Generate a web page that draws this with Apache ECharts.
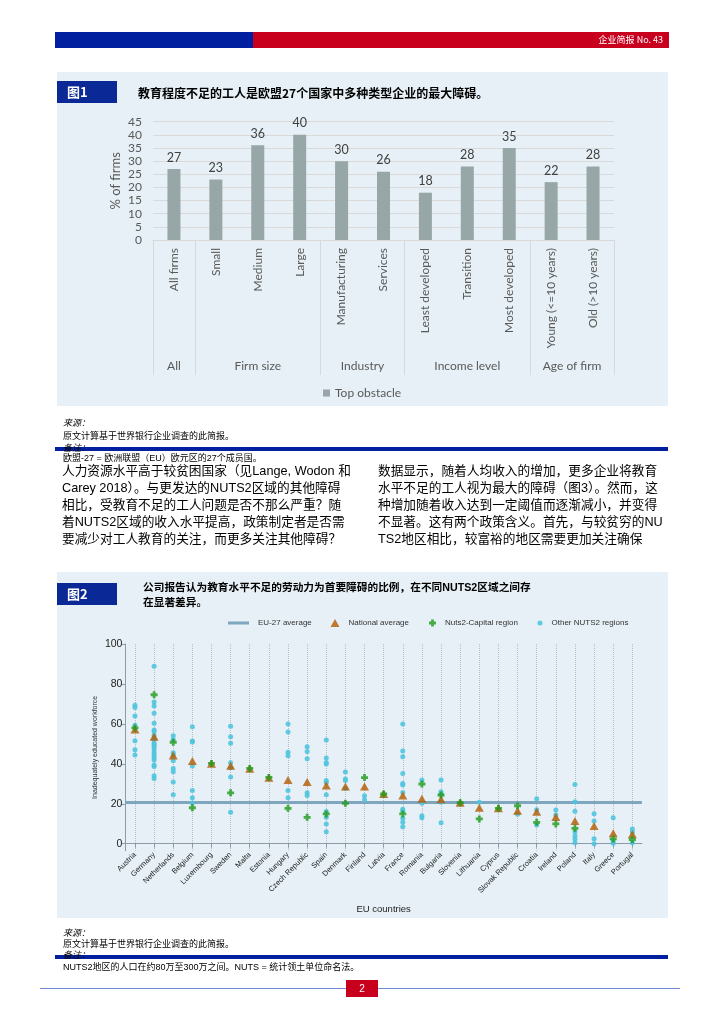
<!DOCTYPE html>
<html><head><meta charset="utf-8">
<script src="https://cdn.jsdelivr.net/npm/echarts@6/dist/echarts.min.js"></script>
<style>html,body{margin:0;padding:0;background:#fff}#c{width:724px;height:1024px}</style>
</head><body><div id="c"></div>
<script>
// ---------- Figure 1 data ----------
const fig1Categories = ['All firms','Small','Medium','Large','Manufacturing','Services','Least developed','Transition','Most developed','Young (<=10 years)','Old (>10 years)'];
const fig1Values = [27,23,36,40,30,26,18,28,35,22,28];
const fig1Groups = ['All','Firm size','Industry','Income level','Age of firm'];
const fig1GroupMembers = [[0],[1,2,3],[4,5],[6,7,8],[9,10]];
const fig1GroupStarts = [0,1,4,6,9];

// ---------- Figure 2 data ----------
const countries = ['Austria','Germany','Netherlands','Belgium','Luxembourg','Sweden','Malta','Estonia','Hungary','Czech Republic','Spain','Denmark','Finland','Latvia','France','Romania','Bulgaria','Slovenia','Lithuania','Cyprus','Slovak Republic','Croatia','Ireland','Poland','Italy','Greece','Portugal'];
const euAverage = 20.7;
const nationalAverage = [57.2,53.6,44.2,41.4,40.0,39.0,37.5,33.0,31.9,30.9,29.1,28.6,28.6,24.9,24.1,22.5,22.2,20.5,18.0,17.7,16.5,16.0,13.4,11.4,8.9,5.3,4.7];
const capitalRegion = [58.0,74.6,50.8,18.0,40.2,25.5,37.7,33.2,17.7,13.2,14.9,20.2,33.1,24.9,14.9,29.9,24.4,20.5,12.4,17.7,19.0,10.7,9.9,7.7,null,2.4,2.1];
const otherRegions = [
  [69.3,68.2,63.9,59.3,51.6,47.0,44.4],
  [88.9,71.0,69.0,65.3,60.3,57.0,56.0,54.0,52.0,50.3,49.4,48.6,47.2,45.7,44.4,43.0,41.9,39.4,38.6,34.0,32.7],
  [54.0,52.0,45.6,44.4,41.6,37.7,36.0,30.9,24.5],
  [58.6,51.4,50.9,38.9,26.7,23.0,20.4],
  [],
  [58.8,53.6,50.3,40.6,38.0,33.4,15.7],
  [],
  [],
  [59.9,55.9,45.8,44.1,26.6,23.0],
  [48.6,46.2,42.6,25.5,24.2],
  [51.9,42.9,40.7,39.9,31.6,30.6,24.5,16.1,13.2,9.9,6.0],
  [35.9,32.4,31.6,27.7],
  [24.0,22.0],
  [],
  [59.9,46.4,43.6,35.2,30.2,29.4,25.7,17.2,16.4,12.7,10.7,8.5],
  [31.9,20.2,14.0,13.0],
  [31.9,26.0,24.9,20.7,10.5],
  [],
  [20.7],
  [],
  [14.7],
  [22.5,17.0,9.4],
  [16.9,14.4],
  [29.7,21.0,16.2,6.0,4.0,2.4,0.5],
  [15.0,11.4,2.5,0.0],
  [13.0,1.4,0.2],
  [7.4,5.9,0.5]
];
const fig2YTicks = [0,20,40,60,80,100];

// ---------- build ----------
const SANS = '"Liberation Sans","Noto Sans CJK SC",sans-serif';
const CJK = '"Noto Sans CJK SC","Liberation Sans",sans-serif';
const LATO = 'Lato, "Open Sans", sans-serif';
const BLUE = '#00209f', RED = '#c8001e', PANEL = '#e6f0f6', BOXBLUE = '#0a2896';

function T(x, y, text, size, o) {
  o = o || {};
  return { type: 'text', x: x, y: y, z: o.z || 10, silent: true,
    style: { text: text, fill: o.fill || '#000', fontSize: size, fontFamily: o.family || SANS,
      fontWeight: o.bold ? 'bold' : 'normal', fontStyle: o.italic ? 'italic' : 'normal',
      align: o.align || 'left', verticalAlign: 'middle' } };
}
function R(x, y, w, h, fill, z) {
  return { type: 'rect', silent: true, z: z === undefined ? -10 : z, shape: { x: x, y: y, width: w, height: h }, style: { fill: fill } };
}

const leftLines = ['人力资源水平高于较贫困国家（见Lange, Wodon 和','Carey 2018）。与更发达的NUTS2区域的其他障碍','相比，受教育不足的工人问题是否不那么严重？随','着NUTS2区域的收入水平提高，政策制定者是否需','要减少对工人教育的关注，而更多关注其他障碍？'];
const rightLines = ['数据显示，随着人均收入的增加，更多企业将教育','水平不足的工人视为最大的障碍（图3）。然而，这','种增加随着收入达到一定阈值而逐渐减小，并变得','不显著。这有两个政策含义。首先，与较贫穷的NU','TS2地区相比，较富裕的地区需要更加关注确保'];

const baseGraphic = [
  R(55, 32, 198, 16, BLUE, 0),
  R(253, 32, 416, 16, RED, 0),
  T(663, 40, '企业简报 No. 43', 9, { fill: '#fff', align: 'right', family: CJK }),
  R(57, 72, 611, 334, PANEL),
  R(57, 81, 60, 22, BOXBLUE, 1),
  T(67, 92, '图1', 13, { fill: '#fff', bold: true, family: CJK }),
  T(138, 93, '教育程度不足的工人是欧盟27个国家中多种类型企业的最大障碍。', 12, { bold: true, family: CJK }),
  T(63, 423, '来源：', 9, { italic: true, family: CJK }),
  T(63, 436, '原文计算基于世界银行企业调查的此简报。', 9, { family: CJK }),
  R(55, 447, 613, 4, BLUE, 5),
  T(63, 448, '备注：', 9, { italic: true, family: CJK, z: 11 }),
  T(63, 459, '欧盟-27 = 欧洲联盟（EU）欧元区的27个成员国。', 9, {}),
  R(57, 572, 611, 346, PANEL),
  R(57, 583, 60, 22, BOXBLUE, 1),
  T(67, 594, '图2', 13, { fill: '#fff', bold: true, family: CJK }),
  T(143, 588, '公司报告认为教育水平不足的劳动力为首要障碍的比例，在不同NUTS2区域之间存', 10.7, { bold: true }),
  T(143, 602, '在显著差异。', 10.7, { bold: true, family: CJK }),
  T(63, 933, '来源：', 9, { italic: true, family: CJK }),
  T(63, 944, '原文计算基于世界银行企业调查的此简报。', 9, { family: CJK }),
  R(55, 955, 613, 4, BLUE, 5),
  T(63, 955, '备注：', 9, { italic: true, family: CJK, z: 11 }),
  T(63, 968, 'NUTS2地区的人口在约80万至300万之间。NUTS = 统计领土单位命名法。', 9, {}),
  R(40, 988, 640, 1, '#6f8ad8', 0),
  R(346, 980, 32, 17, RED, 1),
  T(362, 989, '2', 10, { fill: '#fff', align: 'center' })
];
leftLines.forEach((s, i) => baseGraphic.push(T(62, 471 + i * 17, s, 12.7, {})));
rightLines.forEach((s, i) => baseGraphic.push(T(378, 471 + i * 17, s, 12.7, {})));

const otherData = [];
otherRegions.forEach((vals, i) => vals.forEach(v => otherData.push([countries[i], v])));
const nationalData = countries.map((c, i) => [c, nationalAverage[i]]);
const capitalData = [];
capitalRegion.forEach((v, i) => { if (v !== null) capitalData.push([countries[i], v]); });

const PLUS = 'path://M2.4,0H5.6V2.4H8V5.6H5.6V8H2.4V5.6H0V2.4H2.4Z';
const legText = { fontSize: 8, color: '#333', fontFamily: SANS, padding: [0, 0, 0, 4] };

const option = {
  animation: false,
  backgroundColor: '#fff',
  grid: [
    { left: 153, top: 121.7, width: 461, height: 118.3 },
    { left: 125.4, top: 644, width: 516.5, height: 206.7 }
  ],
  legend: [
    { data: ['Top obstacle'], left: 323, top: 387, padding: 0, itemWidth: 7, itemHeight: 7, icon: 'rect', selectedMode: false,
      textStyle: { fontSize: 12, color: '#595959', fontFamily: LATO } },
    { data: [{ name: 'EU-27 average', icon: 'rect' }], left: 228, top: 619, padding: 0, itemWidth: 21, itemHeight: 3, selectedMode: false, textStyle: legText },
    { data: [{ name: 'National average', icon: 'triangle' }], left: 330.5, top: 619, padding: 0, itemWidth: 9, itemHeight: 8, selectedMode: false, textStyle: legText },
    { data: [{ name: 'Nuts2-Capital region', icon: PLUS }], left: 429, top: 619, padding: 0, itemWidth: 7, itemHeight: 7, selectedMode: false, textStyle: legText },
    { data: [{ name: 'Other NUTS2 regions', icon: 'circle' }], left: 537.5, top: 619, padding: 0, itemWidth: 5, itemHeight: 5, selectedMode: false, textStyle: legText }
  ],
  xAxis: [
    { type: 'category', gridIndex: 0, data: fig1Categories,
      axisLine: { lineStyle: { color: '#d9d9d9' } },
      axisTick: { show: true, length: 135, interval: (idx) => fig1GroupStarts.indexOf(idx) >= 0, lineStyle: { color: '#d9d9d9' } },
      axisLabel: { interval: 0, rotate: 90, margin: 8, fontSize: 12, color: '#595959', fontFamily: LATO },
      splitLine: { show: false } },
    { type: 'category', gridIndex: 1, data: countries,
      axisLine: { lineStyle: { color: '#8c9ba5' } },
      axisTick: { show: true, alignWithLabel: true, interval: 0, length: 4, lineStyle: { color: '#8c9ba5' } },
      axisLabel: { interval: 0, rotate: 45, margin: 3, fontSize: 7.5, color: '#222', fontFamily: SANS },
      splitLine: { show: true, interval: 0, alignWithLabel: true, lineStyle: { type: 'dotted', color: '#b3bec6', width: 1 } },
      name: 'EU countries', nameLocation: 'middle', nameGap: 54, nameMoveOverlap: false,
      nameTextStyle: { fontSize: 9.5, color: '#222', fontFamily: SANS } }
  ],
  yAxis: [
    { type: 'value', gridIndex: 0, min: 0, max: 45, interval: 5,
      axisLine: { show: false }, axisTick: { show: false },
      axisLabel: { fontSize: 12, color: '#595959', margin: 11, fontFamily: LATO },
      splitLine: { lineStyle: { color: '#d9d9d9' } },
      name: '% of firms', nameLocation: 'middle', nameGap: 31, nameMoveOverlap: false,
      nameTextStyle: { fontSize: 13, color: '#595959', fontFamily: LATO } },
    { type: 'value', gridIndex: 1, min: -3.5, max: 100,
      axisLine: { show: true, lineStyle: { color: '#8c9ba5' } },
      axisTick: { show: true, length: 4, customValues: fig2YTicks, lineStyle: { color: '#8c9ba5' } },
      axisLabel: { customValues: fig2YTicks, fontSize: 10.5, color: '#222', margin: 3, fontFamily: SANS },
      splitLine: { show: false },
      name: 'Inadequately educated workforce', nameLocation: 'middle', nameGap: 27, nameMoveOverlap: false,
      nameTextStyle: { fontSize: 7, color: '#333', fontFamily: SANS } }
  ],
  series: [
    { name: 'Top obstacle', type: 'bar', xAxisIndex: 0, yAxisIndex: 0, data: fig1Values, barWidth: 13,
      itemStyle: { color: '#97a6a6' },
      label: { show: true, position: 'top', distance: 5, fontSize: 12.5, color: '#404040', fontFamily: LATO } },
    { name: 'EU-27 average', type: 'line', xAxisIndex: 1, yAxisIndex: 1, data: [], z: 1,
      itemStyle: { color: '#7fa6bf' }, lineStyle: { color: '#7fa6bf', width: 3 },
      markLine: { silent: true, symbol: 'none', z: 1, label: { show: false },
        lineStyle: { color: '#7fa6bf', width: 3, type: 'solid' }, data: [{ yAxis: euAverage }] } },
    { name: 'Other NUTS2 regions', type: 'scatter', xAxisIndex: 1, yAxisIndex: 1, data: otherData, z: 3,
      symbol: 'circle', symbolSize: 5, itemStyle: { color: '#4fc4de', opacity: 0.9 } },
    { name: 'National average', type: 'scatter', xAxisIndex: 1, yAxisIndex: 1, data: nationalData, z: 4,
      symbol: 'triangle', symbolSize: [9, 8], itemStyle: { color: '#b35a00' } },
    { name: 'Nuts2-Capital region', type: 'scatter', xAxisIndex: 1, yAxisIndex: 1, data: capitalData, z: 5,
      symbol: PLUS, symbolSize: 7, itemStyle: { color: '#1f9a1a' } }
  ],
  graphic: baseGraphic
};

const chart = echarts.init(document.getElementById('c'), null, { renderer: 'canvas' });
chart.setOption(option);

// group labels of figure 1, placed through the category axis scale
const groupGraphic = fig1Groups.map((g, gi) => {
  const m = fig1GroupMembers[gi];
  const xs = [m[0], m[m.length - 1]].map(i => chart.convertToPixel({ xAxisIndex: 0 }, fig1Categories[i]));
  return T((xs[0] + xs[1]) / 2, 366.5, g, 12, { fill: '#595959', align: 'center', family: LATO });
});
chart.setOption({ graphic: baseGraphic.concat(groupGraphic) });
</script>
</body></html>
